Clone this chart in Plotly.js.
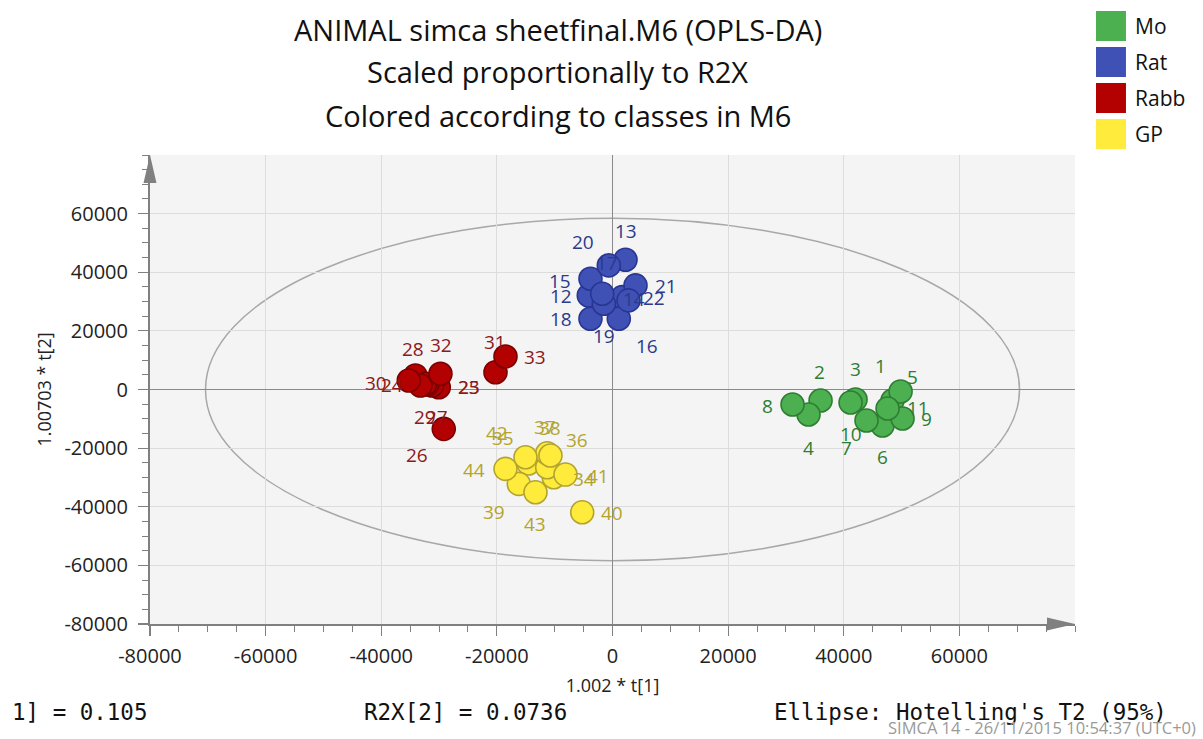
<!DOCTYPE html>
<html>
<head>
<meta charset="utf-8">
<script src="https://cdn.plot.ly/plotly-3.0.1.min.js"></script>
<style>html,body{margin:0;padding:0;background:#fff;}#chart{width:1203px;height:739px;}</style>
</head>
<body>
<div id="chart"></div>
<script>
// ---- Data ----
const classNames = ["Mo", "Rat", "Rabb", "GP"];

const moIds = [1, 2, 3, 4, 5, 6, 7, 8, 9, 10, 11];
const moT1  = [48440, 35990, 42040, 33910, 49830, 46710, 43940, 31140, 50170, 41180, 47580];
const moT2  = [-3760, -3760, -3410, -8540, -680, -12290, -10580, -5120, -9900, -4440, -6490];

const ratIds = [12, 13, 14, 15, 16, 17, 18, 19, 20, 21, 22];
const ratT1  = [-4100, 2250, 1680, -3810, 1090, -640, -3810, -1500, -1780, 3980, 2770];
const ratT2  = [32090, 44280, 31510, 37790, 24140, 42340, 24140, 29260, 32670, 35510, 30390];

const rabbIds = [23, 24, 25, 26, 27, 28, 29, 30, 31, 32, 33];
const rabbT1  = [-30050, -34080, -31190, -32010, -29190, -32350, -33220, -35240, -20240, -29760, -18510];
const rabbT2  = [790, 4780, 1370, 1710, -13420, 1950, 1370, 3070, 5910, 5360, 11270];

const gpIds = [34, 35, 36, 37, 38, 39, 40, 41, 42, 43, 44];
const gpT1  = [-10160, -14530, -11300, -11300, -10730, -16210, -5240, -8130, -15050, -13320, -18510];
const gpT2  = [-29940, -25260, -26530, -21750, -22530, -32200, -41890, -29020, -23110, -35060, -27070];

// Hotelling's T2 (95%) ellipse semi-axes
const ellipseT1 = 70400;
const ellipseT2 = 58400;

const tickVals = [-80000, -60000, -40000, -20000, 0, 20000, 40000, 60000];
const tickText = ["-80000", "-60000", "-40000", "-20000", "0", "20000", "40000", "60000"];

// ---- Styles (label offsets in screen px, colours) ----
const moLabelOff   = [[-12,-35],[-1,-29],[0,-31],[0,33],[12,-14],[0,31],[-20,27],[-25,1],[24,0],[0,31],[30,-1]];
const ratLabelOff  = [[-28,1],[0,-29],[12,2],[-30,2],[28,27],[-2,-2],[-29,0],[0,32],[-19,-52],[30,1],[25,-2]];
const rabbLabelOff = [[30,0],[-23,10],[37,2],[-10,71],[-7,-12],[-12,-35],[5,32],[-33,2],[0,-30],[1,-29],[30,1]];
const gpLabelOff   = [[30,2],[-26,-26],[30,-27],[-2,-26],[0,-28],[-25,28],[30,1],[32,1],[-28,-24],[0,32],[-31,1]];

const fills   = ["#4caf50", "#3f51b5", "#b30000", "#ffeb3b"];
const borders = ["#2e7d32", "#283593", "#7a0000", "#b3a42e"];
const txtCols = ["#2e7d32", "#2b3a8c", "#8b1a1a", "#b3a42e"];

const FONT = "'Open Sans', 'Noto Sans', sans-serif";
const MONO = "'DejaVu Sans Mono', 'Liberation Mono', monospace";

const groups = [
  {ids: moIds, x: moT1, y: moT2, off: moLabelOff},
  {ids: ratIds, x: ratT1, y: ratT2, off: ratLabelOff},
  {ids: rabbIds, x: rabbT1, y: rabbT2, off: rabbLabelOff},
  {ids: gpIds, x: gpT1, y: gpT2, off: gpLabelOff}
];

const traces = groups.map((g, i) => ({
  type: "scatter", mode: "markers", name: classNames[i],
  x: g.x, y: g.y, showlegend: false, hoverinfo: "skip",
  marker: {size: 23, color: fills[i], line: {color: borders[i], width: 1.6}},
  cliponaxis: false
}));

const annotations = [];
groups.forEach((g, i) => {
  g.ids.forEach((id, k) => {
    annotations.push({
      x: g.x[k], y: g.y[k], xref: "x", yref: "y", text: String(id), showarrow: false,
      xshift: g.off[k][0], yshift: -g.off[k][1],
      font: {family: FONT, size: 19, color: txtCols[i]}
    });
  });
});

// Titles
const titleLines = ["ANIMAL simca sheetfinal.M6 (OPLS-DA)", "Scaled proportionally to R2X", "Colored according to classes in M6"];
const titleY = [1.268, 1.179, 1.085];
titleLines.forEach((t, i) => annotations.push({
  x: 0.441, y: titleY[i], xref: "paper", yref: "paper", text: t, showarrow: false,
  xanchor: "center", yanchor: "middle", font: {family: FONT, size: 29, color: "#111"}
}));

// Legend (custom squares)
const shapes = [];
classNames.forEach((c, i) => {
  const top = 1 + (155 - (11 + 36 * i)) / 469;
  const bot = top - 30 / 469;
  shapes.push({type: "rect", xref: "paper", yref: "paper", x0: 1.0227, x1: 1.0551, y0: bot, y1: top,
    fillcolor: fills[i], line: {width: 0}});
  annotations.push({x: 1.0627, y: (top + bot) / 2, xref: "paper", yref: "paper", text: c, showarrow: false,
    xanchor: "left", yanchor: "middle", font: {family: FONT, size: 21, color: "#111"}});
});

// Footer texts
annotations.push({x: -0.1514, y: -0.1876, xref: "paper", yref: "paper", text: "1] = 0.105", showarrow: false,
  xanchor: "left", yanchor: "middle", font: {family: MONO, size: 22.5, color: "#111"}});
annotations.push({x: 0.2292, y: -0.1876, xref: "paper", yref: "paper", text: "R2X[2] = 0.0736", showarrow: false,
  xanchor: "left", yanchor: "middle", font: {family: MONO, size: 22.5, color: "#111"}});
annotations.push({x: 0.6724, y: -0.1876, xref: "paper", yref: "paper", text: "Ellipse: Hotelling's T2 (95%)", showarrow: false,
  xanchor: "left", yanchor: "middle", font: {family: MONO, size: 22.5, color: "#111"}});
annotations.push({x: 1.1319, y: -0.2217, xref: "paper", yref: "paper", text: "SIMCA 14 - 26/11/2015 10:54:37 (UTC+0)", showarrow: false,
  xanchor: "right", yanchor: "middle", borderpad: 0, font: {family: FONT, size: 16.5, color: "#9a9a9a"}});

// Ellipse
shapes.push({type: "circle", xref: "x", yref: "y", x0: -ellipseT1, x1: ellipseT1, y0: -ellipseT2, y1: ellipseT2,
  line: {color: "#a8a8a8", width: 1.5}, layer: "below"});
// Axis arrows
shapes.push({type: "path", xref: "paper", yref: "paper", path: "M -0.0070 0.9403 L 0 1 L 0.0070 0.9403 Z",
  fillcolor: "#808080", line: {width: 0}});
shapes.push({type: "path", xref: "paper", yref: "paper", path: "M 0.9697 -0.0139 L 1 0 L 0.9697 0.0139 Z",
  fillcolor: "#808080", line: {width: 0}});

const axisCommon = {
  range: [-80000, 80000], autorange: false, fixedrange: true,
  tickmode: "array", tickvals: tickVals, ticktext: tickText,
  ticks: "outside", ticklen: 10, tickwidth: 1.2, tickcolor: "#808080",
  showline: true, linecolor: "#808080", linewidth: 2,
  showgrid: true, gridcolor: "#dcdcdc", gridwidth: 1,
  zeroline: true, zerolinecolor: "#8a8a8a", zerolinewidth: 1.6,
  tickfont: {family: FONT, size: 20, color: "#222"},
  minor: {tickmode: "linear", tick0: 0, dtick: 5000, ticks: "outside", ticklen: 6, tickcolor: "#808080", tickwidth: 1, showgrid: false}
};

const layout = {
  width: 1203, height: 739,
  margin: {l: 150, r: 128, t: 155, b: 115},
  paper_bgcolor: "#ffffff", plot_bgcolor: "#f4f4f4",
  showlegend: false, hovermode: false,
  xaxis: Object.assign({}, axisCommon, {
    ticklabelstandoff: 3,
    title: {text: "1.002 * t[1]", standoff: 11, font: {family: FONT, size: 18, color: "#222"}}
  }),
  yaxis: Object.assign({}, axisCommon, {
    ticklabelstandoff: 6,
    title: {text: "1.00703 * t[2]", standoff: 8, font: {family: FONT, size: 18, color: "#222"}}
  }),
  shapes: shapes,
  annotations: annotations
};

Plotly.newPlot("chart", traces, layout, {staticPlot: true, displayModeBar: false});
</script>
</body>
</html>
